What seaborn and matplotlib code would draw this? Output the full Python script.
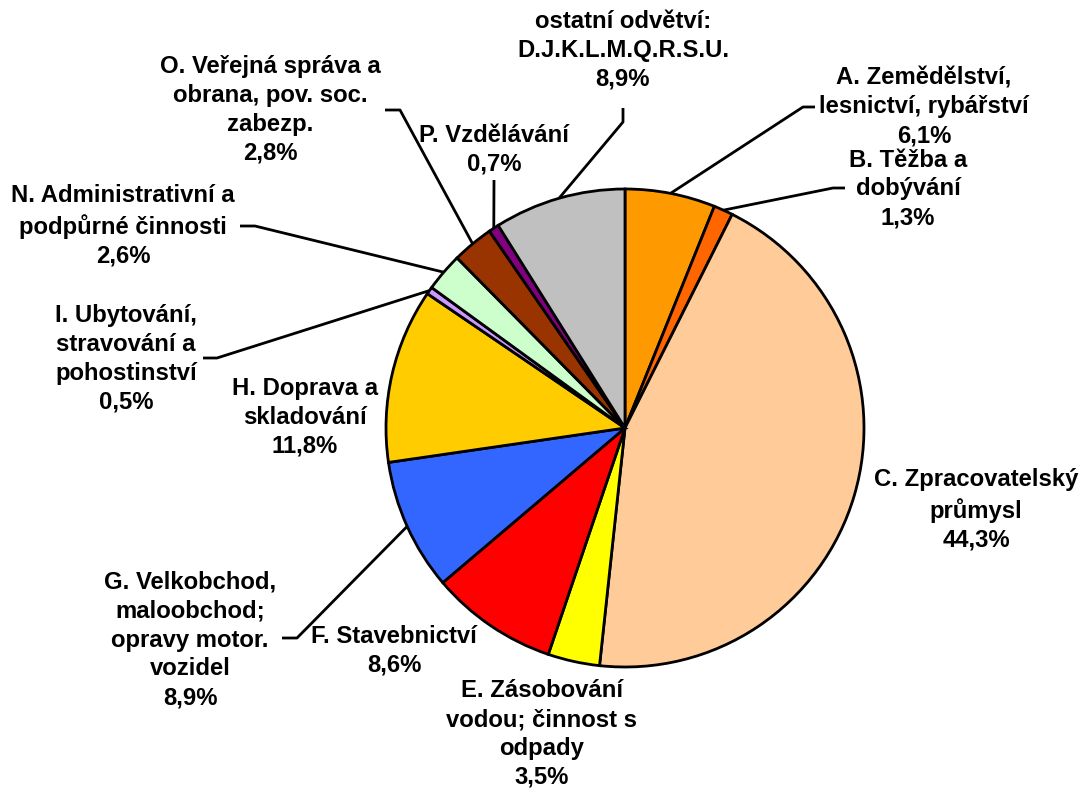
import numpy as np
import matplotlib
matplotlib.use("Agg")
import matplotlib.pyplot as plt
import seaborn as sns

# ---- data ----
categories = [
    "A. Zemědělství,\nlesnictví, rybářství",
    "B. Těžba a\ndobývání",
    "C. Zpracovatelský\nprůmysl",
    "E. Zásobování\nvodou; činnost s\nodpady",
    "F. Stavebnictví",
    "G. Velkobchod,\nmaloobchod;\nopravy motor.\nvozidel",
    "H. Doprava a\nskladování",
    "I. Ubytování,\nstravování a\npohostinství",
    "N. Administrativní a\npodpůrné činnosti",
    "O. Veřejná správa a\nobrana, pov. soc.\nzabezp.",
    "P. Vzdělávání",
    "ostatní odvětví:\nD.J.K.L.M.Q.R.S.U.",
]
values = [6.1, 1.3, 44.3, 3.5, 8.6, 8.9, 11.8, 0.5, 2.6, 2.8, 0.7, 8.9]
colors = ["#FF9900", "#FF6600", "#FFCC99", "#FFFF00", "#FF0000", "#3366FF",
          "#FFCC00", "#CC99FF", "#CCFFCC", "#993300", "#800080", "#C0C0C0"]

# ---- layout (pixel coordinates, y from top) ----
W, H = 1082, 791
cx, cy, R = 625, 428, 239
label_pos = [(924, 107), (908, 189), (976, 510), (542, 734), (394, 651),
             (190, 640), (305, 417), (126, 359), (123, 226), (270, 110),
             (494, 150), (623, 50)]
# leader elbows (None = no leader)
elbows = [[(815, 107), (803, 107)],
          [(845, 188), (833, 188)],
          None, None, None,
          [(282, 638), (297, 638)],
          None,
          [(203, 358), (217, 358)],
          [(240, 226), (255, 226)],
          [(385, 110), (400, 110)],
          [(494, 180)],
          [(623, 108), (623, 122)]]

sns.set_style("white")
plt.rcParams['font.family'] = ['Liberation Sans', 'DejaVu Sans']

fig = plt.figure(figsize=(W / 100, H / 100), dpi=100)
ax = fig.add_axes([0, 0, 1, 1])

wedges, _ = ax.pie(values, colors=colors, startangle=90, counterclock=False,
                   center=(cx, H - cy), radius=R,
                   wedgeprops=dict(edgecolor='black', linewidth=2))
ax.set_xlim(0, W)
ax.set_ylim(0, H)
ax.set_aspect('equal')
ax.axis('off')

for i, w in enumerate(wedges):
    txt = categories[i] + "\n" + f"{values[i]:.1f}".replace('.', ',') + "%"
    lx, ly = label_pos[i]
    ax.text(lx, H - ly, txt, ha='center', va='center', fontsize=17.2,
            fontweight='bold', linespacing=1.33, color='black')
    if elbows[i] is not None:
        ang = np.deg2rad((w.theta1 + w.theta2) / 2)
        ax_ = cx + R * np.cos(ang)
        ay_ = (H - cy) + R * np.sin(ang)
        pts = [(x, H - y) for x, y in elbows[i]] + [(ax_, ay_)]
        xs, ys = zip(*pts)
        ax.plot(xs, ys, color='black', linewidth=2, solid_capstyle='butt')

fig.savefig("out.png", dpi=100)
